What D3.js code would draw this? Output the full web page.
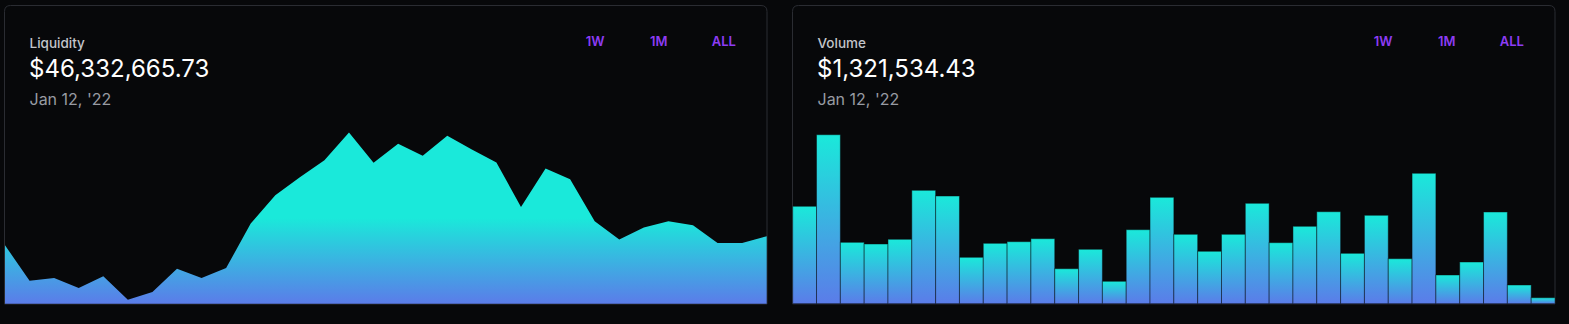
<!DOCTYPE html>
<html>
<head>
<meta charset="utf-8">
<script src="https://cdn.jsdelivr.net/npm/d3@7"></script>
<style>
  html, body { margin: 0; padding: 0; background: #07080a; }
  svg { display: block; }
  text { font-family: Inter, "Noto Sans", sans-serif; }
</style>
</head>
<body>
<svg id="chart" width="1569" height="324"></svg>
<script>
// ---- data ----
const dates = d3.timeDays(new Date(2021, 11, 12), new Date(2022, 0, 13));
const liquidity = [40.13e6, 15.83e6, 17.62e6, 10.74e6, 18.79e6, 2.75e6, 7.99e6, 24.09e6,
  17.62e6, 24.51e6, 55.07e6, 74.55e6, 86.95e6, 98.65e6, 117.72e6, 96.79e6,
  110.0e6, 101.61e6, 115.38e6, 106.01e6, 97.06e6, 66.5e6, 92.93e6, 85.57e6,
  56.66e6, 44.06e6, 52.32e6, 56.66e6, 53.9e6, 41.72e6, 41.72e6, 46332665.73];
const volume = [21.52e6, 37.33e6, 13.56e6, 13.19e6, 14.23e6, 25.05e6, 23.79e6, 10.25e6,
  13.34e6, 13.7e6, 14.36e6, 7.73e6, 12.02e6, 4.95e6, 16.35e6, 23.5e6,
  15.33e6, 11.58e6, 15.33e6, 22.18e6, 13.48e6, 17.1e6, 20.32e6, 11.13e6,
  19.53e6, 9.94e6, 28.81e6, 6.34e6, 9.21e6, 20.26e6, 4.13e6, 1321534.43];
const ranges = ["1W", "1M", "ALL"];
const titles = ["Liquidity", "Volume"];

// ---- layout ----
const svg = d3.select("#chart");
const fmtMoney = d3.format("$,.2f");
const fmtDate = d => d3.timeFormat("%b %-d, '%y")(d);
const cardW = 762.5, cardTop = 5.5, cardBottom = 304, plotBottom = 303.7, plotTop = 100;
const cards = [{x: 4.5}, {x: 792.5}];

const defs = svg.append("defs");
const g1 = defs.append("linearGradient").attr("id", "areaGrad")
  .attr("x1", 0).attr("y1", 0).attr("x2", 0).attr("y2", 1);
g1.append("stop").attr("offset", "50%").attr("stop-color", "#1ae9da");
g1.append("stop").attr("offset", "100%").attr("stop-color", "#5b7ce9");
const g2 = defs.append("linearGradient").attr("id", "barGrad")
  .attr("x1", 0).attr("y1", 0).attr("x2", 0).attr("y2", 1);
g2.append("stop").attr("offset", "0%").attr("stop-color", "#1ae9da");
g2.append("stop").attr("offset", "100%").attr("stop-color", "#5b7ce9");

cards.forEach((c, i) => {
  const g = svg.append("g").attr("transform", `translate(${c.x},0)`);
  const r = 6;
  g.append("path")
    .attr("d", `M0,${cardBottom} L0,${cardTop + r} Q0,${cardTop} ${r},${cardTop} L${cardW - r},${cardTop} Q${cardW},${cardTop} ${cardW},${cardTop + r} L${cardW},${cardBottom} Z`)
    .attr("fill", "#07080a").attr("stroke", "#2a2c32").attr("stroke-width", 1);

  g.append("text").attr("x", 25).attr("y", 48).attr("font-size", 13.5)
    .attr("font-weight", 500).attr("fill", "#c3c5cb").text(titles[i]);
  const vals = i === 0 ? liquidity : volume;
  g.append("text").attr("x", 24.6).attr("y", 77).attr("font-size", 24)
    .attr("fill", "#ffffff").text(fmtMoney(vals[vals.length - 1]));
  g.append("text").attr("x", 25).attr("y", 104.5).attr("font-size", 16)
    .attr("fill", "#989ba3").text(fmtDate(dates[dates.length - 1]));

  const bx = [581.2, 645.5, 707.2];
  ranges.forEach((t, k) => {
    g.append("text").attr("x", bx[k]).attr("y", 46).attr("font-size", 13)
      .attr("font-weight", 600).attr("fill", "#8d3cf4").text(t);
  });
});

// ---- liquidity area ----
const xL = d3.scalePoint().domain(d3.range(liquidity.length)).range([5, 766.7]);
const yL = d3.scaleLinear().domain([0, 140e6]).range([plotBottom, plotTop]);
const area = d3.area().x((d, i) => xL(i)).y0(plotBottom).y1(d => yL(d));
svg.append("path").datum(liquidity).attr("d", area).attr("fill", "url(#areaGrad)");

// ---- volume bars ----
const xV = d3.scaleBand().domain(d3.range(volume.length)).range([792.7, 1555]).padding(0);
const yV = d3.scaleLinear().domain([0, 45e6]).range([plotBottom, plotTop]);
svg.append("g").selectAll("rect").data(volume).join("rect")
  .attr("x", (d, i) => xV(i))
  .attr("y", d => yV(d))
  .attr("width", xV.bandwidth())
  .attr("height", d => plotBottom - yV(d))
  .attr("fill", "url(#barGrad)")
  .attr("stroke", "rgba(7,8,10,0.45)")
  .attr("stroke-width", 1);
</script>
</body>
</html>
